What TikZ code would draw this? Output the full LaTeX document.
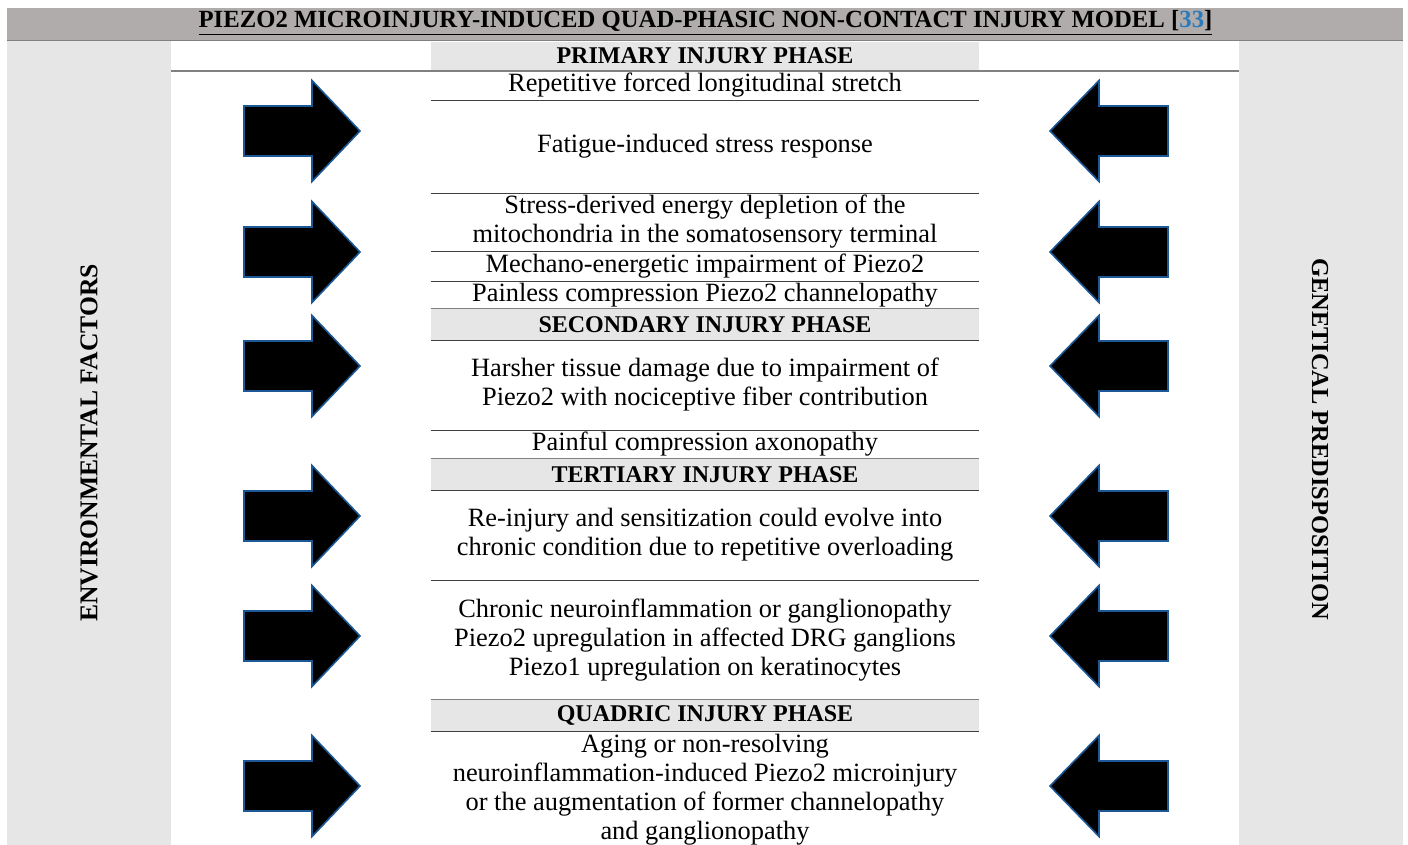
\documentclass[tikz,border=0pt]{standalone}
\usepackage{fontspec}
\setmainfont{Liberation Serif}
\usepackage{tikz}
\usetikzlibrary{positioning}

\definecolor{barGray}{RGB}{175,172,171}
\definecolor{paleGray}{RGB}{230,230,230}
\definecolor{ruleGray}{RGB}{128,128,128}
\definecolor{arrowEdge}{RGB}{28,88,150}
\definecolor{citeBlue}{RGB}{42,123,190}

\begin{document}
\begin{tikzpicture}[
    x=0.5pt, y=-0.5pt,
    row/.style={rectangle, inner sep=0pt, minimum width=274pt, align=center, font=\fontsize{13.2}{14.5}\selectfont},
    phase/.style={row, fill=paleGray, font=\fontsize{12}{14.5}\selectfont\bfseries},
    side/.style={inner sep=0pt, font=\fontsize{12.2}{14.5}\selectfont\bfseries},
    rule/.style={draw=black!75, line width=0.5pt},
    toprule/.style={draw=ruleGray, line width=0.9pt},
    fatarrow/.style={fill=black, draw=arrowEdge, line width=0.8pt, line join=miter}
]
\useasboundingbox (0,0) rectangle (1408,845);

% background bands
\fill[barGray] (7,8) rectangle (1403,40);
\fill[paleGray] (7,41) rectangle (171,845);
\fill[paleGray] (1239,41) rectangle (1403,845);
\draw[toprule] (7,40.5) -- (1403,40.5);

\node[side, font=\fontsize{12.35}{14.5}\selectfont\bfseries] (title) at (705.5,23) {\underline{PIEZO2 MICROINJURY-INDUCED QUAD-PHASIC NON-CONTACT INJURY MODEL [\textcolor{citeBlue}{33}]}};

% primary phase
\node[phase, minimum height=14pt] (hdr1) at (705,56) {PRIMARY INJURY PHASE};
\node[row, minimum height=14.5pt] (r1) at (705,85.5) {Repetitive forced longitudinal stretch};
\node[row, minimum height=46.5pt] (r2) at (705,146.5) {Fatigue-induced stress response};
\node[row, minimum height=29pt] (r3) at (705,222) {Stress-derived energy depletion of the\\ mitochondria in the somatosensory terminal};
\node[row, minimum height=15pt] (r4) at (705,266) {Mechano-energetic impairment of Piezo2};
\node[row, minimum height=14pt] (r5) at (705,295) {Painless compression Piezo2 channelopathy};

% secondary phase
\node[phase, minimum height=15.5pt] (hdr2) at (705,324.5) {SECONDARY INJURY PHASE};
\node[row, minimum height=45pt] (r6) at (705,385) {Harsher tissue damage due to impairment of\\ Piezo2 with nociceptive fiber contribution};
\node[row, minimum height=14.5pt] (r7) at (705,444.5) {Painful compression axonopathy};

% tertiary phase
\node[phase, minimum height=15.5pt] (hdr3) at (705,474.5) {TERTIARY INJURY PHASE};
\node[row, minimum height=45pt] (r8) at (705,535) {Re-injury and sensitization could evolve into\\ chronic condition due to repetitive overloading};
\node[row, minimum height=60pt] (r9) at (705,640) {Chronic neuroinflammation or ganglionopathy\\ Piezo2 upregulation in affected DRG ganglions\\ Piezo1 upregulation on keratinocytes};

% quadric phase
\node[phase, minimum height=15.5pt] (hdr4) at (705,715.5) {QUADRIC INJURY PHASE};
\node[row, minimum height=58.5pt] (r10) at (705,789.5) {Aging or non-resolving\\ neuroinflammation-induced Piezo2 microinjury\\ or the augmentation of former channelopathy\\ and ganglionopathy};

% rules
\draw[toprule] (171,71) -- (1239,71);
\foreach \n in {r1,r2,r3,r4,hdr2,r6,hdr3,r8,hdr4}
    \draw[rule] (\n.south west) -- (\n.south east);
\foreach \n in {hdr2,hdr3,hdr4}
    \draw[rule, draw=ruleGray] (\n.north west) -- (\n.north east);

% side labels
\node[side, font=\fontsize{12.8}{14.5}\selectfont\bfseries, rotate=90] (env) at (89,443) {ENVIRONMENTAL FACTORS};
\node[side, rotate=-90] (gen) at (1320,439) {GENETICAL PREDISPOSITION};

% block arrows
\foreach \ay in {131,252,366,516,636,786} {
    \draw[fatarrow] (244,\ay) ++(0,-25) -- ++(68,0) -- ++(0,-25.5) -- ++(48,50.5)
        -- ++(-48,50.5) -- ++(0,-25.5) -- ++(-68,0) -- cycle;
    \draw[fatarrow] (1168,\ay) ++(0,-25) -- ++(-69,0) -- ++(0,-25.5) -- ++(-49,50.5)
        -- ++(49,50.5) -- ++(0,-25.5) -- ++(69,0) -- cycle;
}
\end{tikzpicture}
\end{document}
